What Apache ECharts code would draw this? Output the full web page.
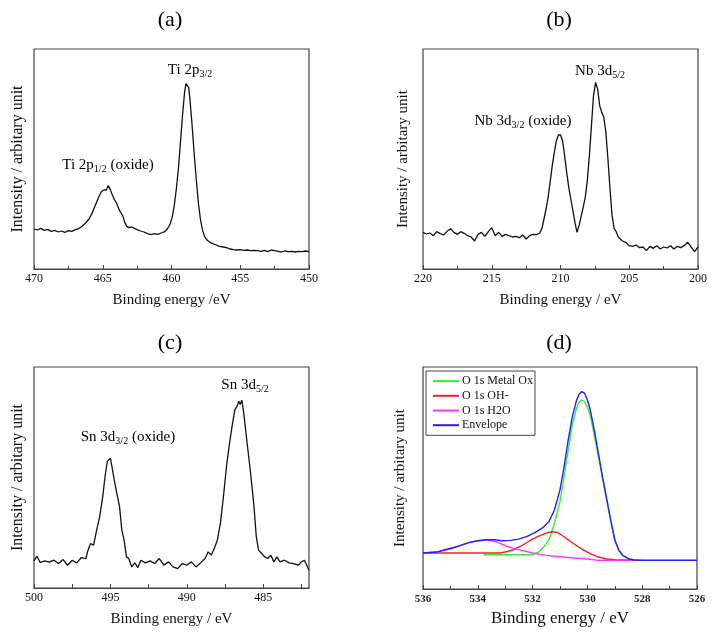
<!DOCTYPE html>
<html><head><meta charset="utf-8">
<script src="https://cdn.jsdelivr.net/npm/echarts@6/dist/echarts.min.js"></script>
<style>html,body{margin:0;padding:0;background:#fff}#c{width:712px;height:637px}</style>
</head><body><div id="c"></div>
<script>
// ---------- (a) Ti 2p ----------
const tiEnergy = [470.0,469.75,469.5,469.25,469.0,468.75,468.5,468.25,468.0,467.75,467.5,467.25,467.0,466.75,466.5,466.25,466.0,465.75,465.5,465.3,465.1,464.9,464.75,464.6,464.45,464.3,464.15,464.0,463.85,463.7,463.55,463.4,463.25,463.1,462.9,462.7,462.5,462.25,462.0,461.75,461.5,461.25,461.0,460.75,460.5,460.3,460.1,459.95,459.8,459.65,459.5,459.35,459.2,459.05,458.95,458.85,458.75,458.65,458.5,458.35,458.2,458.05,457.9,457.75,457.6,457.4,457.2,457.0,456.75,456.5,456.25,456.0,455.75,455.5,455.25,455.0,454.75,454.5,454.25,454.0,453.75,453.5,453.25,453.0,452.75,452.5,452.25,452.0,451.75,451.5,451.25,451.0,450.75,450.5,450.25,450.0];
const tiIntensity = [120,117,122,116,119,113,116,111,114,110,115,113,118,121,128,138,150,170,195,215,232,238,236,250,238,222,208,198,182,170,160,140,128,124,126,122,118,114,111,106,103,106,104,108,112,120,135,155,190,240,300,380,460,530,556,559,545,505,430,345,270,200,150,118,98,86,80,76,72,68,66,64,60,58,57,58,56,57,55,56,55,53,56,52,57,55,53,51,54,52,53,51,53,52,54,52];

// ---------- (b) Nb 3d ----------
const nbEnergy = [220.0,219.75,219.5,219.25,219.0,218.75,218.5,218.25,218.0,217.75,217.5,217.25,217.0,216.75,216.5,216.25,216.0,215.75,215.5,215.25,215.0,214.75,214.5,214.25,214.0,213.75,213.5,213.25,213.0,212.75,212.5,212.25,212.0,211.75,211.5,211.35,211.2,211.05,210.9,210.75,210.6,210.45,210.3,210.15,210.0,209.85,209.7,209.55,209.4,209.25,209.1,208.95,208.8,208.65,208.5,208.35,208.2,208.05,207.9,207.75,207.6,207.45,207.3,207.15,207.0,206.85,206.7,206.55,206.4,206.25,206.1,205.95,205.8,205.65,205.5,205.25,205.0,204.75,204.5,204.25,204.0,203.75,203.5,203.25,203.0,202.75,202.5,202.25,202.0,201.75,201.5,201.25,201.0,200.75,200.5,200.25,200.0];
const nbIntensity = [110,105,108,100,112,106,102,113,121,110,104,112,107,100,96,84,104,110,98,112,124,100,110,98,104,100,96,98,94,102,90,100,104,103,108,122,150,180,215,262,310,350,385,402,402,385,340,290,245,210,175,140,110,130,158,185,215,265,340,430,520,560,540,490,470,455,410,330,240,160,122,112,96,90,84,80,70,68,72,64,66,55,68,62,70,60,66,63,70,60,68,64,70,80,66,52,66];

// ---------- (c) Sn 3d ----------
const snEnergy = [500.0,499.8,499.6,499.3,499.0,498.7,498.4,498.1,497.8,497.5,497.2,496.9,496.6,496.5,496.3,496.1,495.9,495.7,495.5,495.35,495.2,495.1,495.0,494.9,494.75,494.6,494.4,494.25,494.1,493.95,493.8,493.6,493.4,493.2,493.0,492.7,492.4,492.1,491.8,491.5,491.2,490.9,490.6,490.3,490.0,489.7,489.4,489.1,488.8,488.6,488.4,488.2,488.0,487.8,487.6,487.4,487.2,487.0,486.85,486.7,486.6,486.5,486.4,486.3,486.2,486.0,485.8,485.6,485.45,485.3,485.1,484.9,484.7,484.5,484.3,484.1,483.9,483.6,483.3,483.0,482.7,482.5,482.3,482.1,482.0];
const snIntensity = [81,95,76,81,77,83,73,85,68,83,75,91,88,108,133,128,173,213,273,333,378,373,388,363,323,288,243,173,143,93,88,63,75,61,83,75,81,73,88,68,78,63,58,73,68,78,63,75,88,108,98,118,143,193,273,363,433,493,533,543,558,548,561,533,493,413,333,243,153,113,103,93,88,98,78,93,78,83,75,73,68,78,83,63,53];

// ---------- (d) O 1s ----------
const oxEnergy = [533.8,532.0,531.8,531.6,531.4,531.2,531.0,530.85,530.7,530.55,530.4,530.3,530.2,530.1,530.0,529.9,529.75,529.6,529.45,529.3,529.15,529.0,528.85,528.7,528.5,528.3,528.0,526.0];
const oxIntensity = [103,103,110,126,148,198,263,338,418,493,543,561,568,563,546,523,463,398,333,268,203,146,116,100,91,87,86,86];
const ohEnergy = [536.0,533.2,533.0,532.7,532.4,532.1,531.8,531.5,531.3,531.1,530.9,530.7,530.5,530.2,529.9,529.6,529.3,529.0,528.5,528.0,526.0];
const ohIntensity = [108,108,111,118,130,145,158,168,172,170,160,148,136,120,106,96,90,88,87,86,86];
const h2oEnergy = [536.0,535.5,535.0,534.6,534.3,534.0,533.7,533.5,533.3,533.0,532.7,532.4,532.0,531.5,531.0,530.5,530.0,529.6,529.0,526.0];
const h2oIntensity = [108,111,121,132,140,145,147,145,141,130,122,116,108,101,97,93,90,86,86,86];
const envEnergy = [536.0,535.5,535.2,534.9,534.6,534.3,534.0,533.7,533.4,533.1,532.8,532.5,532.2,531.9,531.6,531.4,531.2,531.0,530.85,530.7,530.55,530.4,530.3,530.2,530.1,530.0,529.9,529.75,529.6,529.45,529.3,529.15,529.0,528.85,528.7,528.5,528.3,528.0,527.0,526.0];
const envIntensity = [108,111,118,124,132,140,145,148,148,145,146,150,158,170,186,203,238,298,368,448,518,566,586,593,588,568,540,478,408,338,273,208,148,116,100,91,87,86,86,86];

// ---------- labels ----------
const panelTitles = ['(a)','(b)','(c)','(d)'];
const xAxisNames = ['Binding energy /eV','Binding energy / eV','Binding energy / eV','Binding energy / eV'];
const yAxisName = 'Intensity / arbitary unit';
const legendNames = ['O 1s Metal Ox','O 1s OH-','O 1s H2O','Envelope'];
const snLabelTicks = [485,490,495,500];
const snAllTicks = [482.5,485,487.5,490,492.5,495,497.5,500];

const zip = (xs, ys) => xs.map((x, i) => [x, ys[i]]);
const FONT = 'Liberation Serif';

const grids = [
  {left:34, top:49, width:275, height:220},
  {left:423, top:49, width:275, height:220},
  {left:34, top:367, width:275, height:221},
  {left:423, top:367, width:274, height:222}
].map(g => Object.assign(g, {show:true, borderColor:'#444', borderWidth:1.2, backgroundColor:'transparent', containLabel:false}));

function xAxisBase(i, extra) {
  return Object.assign({
    gridIndex:i, type:'value', inverse:true,
    name:xAxisNames[i], nameLocation:'middle', nameGap:24,
    nameTextStyle:{fontFamily:FONT, fontSize:15, color:'#111'},
    axisLine:{show:true, lineStyle:{color:'#444', width:1.2}},
    axisTick:{show:true, inside:true, length:4, lineStyle:{color:'#444'}},
    minorTick:{show:true, splitNumber:2, length:3, lineStyle:{color:'#444'}},
    axisLabel:{fontFamily:FONT, fontSize:12, color:'#111', margin:4},
    splitLine:{show:false}, minorSplitLine:{show:false}
  }, extra);
}

const xAxes = [
  xAxisBase(0, {min:450, max:470, interval:5}),
  xAxisBase(1, {min:200, max:220, interval:5}),
  xAxisBase(2, {min:482, max:500,
    minorTick:{show:false},
    axisTick:{show:true, inside:true, length:4, lineStyle:{color:'#444'}, customValues:snAllTicks},
    axisLabel:{fontFamily:FONT, fontSize:12, color:'#111', margin:4, customValues:snLabelTicks}}),
  xAxisBase(3, {min:526, max:536, interval:2, nameGap:21,
    nameTextStyle:{fontFamily:FONT, fontSize:17, color:'#111'},
    axisLabel:{fontFamily:FONT, fontSize:11, fontWeight:'bold', color:'#222', margin:5}})
];

const yGaps = [8, 12, 8, 15];
const yFonts = [16, 15, 16, 15];
const yMax = [660, 660, 660, 667];
const yAxes = [0,1,2,3].map(i => ({
  gridIndex:i, type:'value', min:0, max:yMax[i],
  name:yAxisName, nameLocation:'middle', nameGap:yGaps[i],
  nameTextStyle:{fontFamily:FONT, fontSize:yFonts[i], color:'#111'},
  axisLine:{show:false}, axisTick:{show:false}, axisLabel:{show:false}, splitLine:{show:false}
}));

function lineSeries(name, data, i, color, w) {
  return {name, type:'line', xAxisIndex:i, yAxisIndex:i, data, symbol:'none', showSymbol:false, smooth:false,
    lineStyle:{color, width:w}, itemStyle:{color}, animation:false};
}

const series = [
  lineSeries('Ti', zip(tiEnergy, tiIntensity), 0, '#111', 1.3),
  lineSeries('Nb', zip(nbEnergy, nbIntensity), 1, '#111', 1.3),
  lineSeries('Sn', zip(snEnergy, snIntensity), 2, '#111', 1.3),
  lineSeries(legendNames[0], zip(oxEnergy, oxIntensity), 3, '#33ee33', 1.4),
  lineSeries(legendNames[1], zip(ohEnergy, ohIntensity), 3, '#ff1a1a', 1.4),
  lineSeries(legendNames[2], zip(h2oEnergy, h2oIntensity), 3, '#ff33ff', 1.4),
  lineSeries(legendNames[3], zip(envEnergy, envIntensity), 3, '#2020ff', 1.4)
];

const titlePos = [[170,20],[559,20],[170,343],[559,343]];
const graphics = panelTitles.map((t, i) => ({
  type:'text', x:titlePos[i][0], y:titlePos[i][1],
  style:{text:t, font:'22px "Liberation Serif"', fill:'#000', textAlign:'center', textVerticalAlign:'middle', align:'center', verticalAlign:'middle'}
}));

const rich = {
  b:{fontFamily:FONT, fontSize:15, lineHeight:18, color:'#111'},
  s:{fontFamily:FONT, fontSize:10, lineHeight:10, padding:[7,0,0,0], verticalAlign:'bottom', color:'#111'}
};
const annotations = [
  ['{b|Ti 2p}{s|3/2}', 190, 70],
  ['{b|Ti 2p}{s|1/2}{b| (oxide)}', 108, 165],
  ['{b|Nb 3d}{s|5/2}', 600, 71],
  ['{b|Nb 3d}{s|3/2}{b| (oxide)}', 523, 121],
  ['{b|Sn 3d}{s|5/2}', 245, 385],
  ['{b|Sn 3d}{s|3/2}{b| (oxide)}', 128, 437]
];
annotations.forEach(a => graphics.push({
  type:'text', x:a[1], y:a[2],
  style:{text:a[0], rich, textAlign:'center', textVerticalAlign:'middle', align:'center', verticalAlign:'middle'}
}));

const chart = echarts.init(document.getElementById('c'), null, {renderer:'canvas'});
chart.setOption({
  animation:false,
  backgroundColor:'#fff',
  grid:grids, xAxis:xAxes, yAxis:yAxes, series,
  legend:{
    data:legendNames, orient:'vertical', left:426, top:371,
    icon:'rect', itemWidth:26, itemHeight:2, itemGap:2.5,
    padding:[4,2,4,7], borderColor:'#444', borderWidth:1, backgroundColor:'#fff',
    textStyle:{fontFamily:FONT, fontSize:12, lineHeight:12.2, color:'#111', padding:[0,0,0,-2]},
    selectedMode:false
  },
  graphic:graphics
});
</script></body></html>
